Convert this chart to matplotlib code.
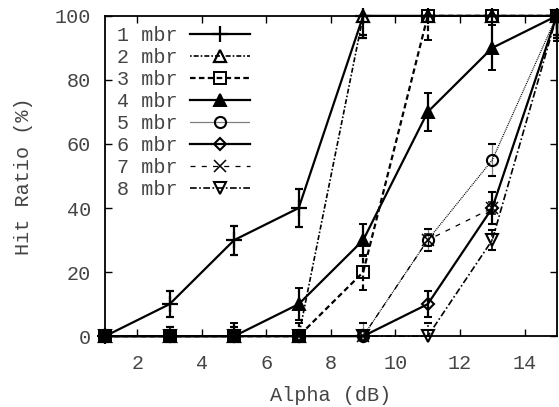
import matplotlib
matplotlib.use('Agg')
import matplotlib.pyplot as plt
from matplotlib.lines import Line2D
import numpy as np

plt.rcParams['font.family'] = ['Liberation Mono', 'DejaVu Sans Mono']
plt.rcParams['font.size'] = 14.5

# Alpha (dB)
alpha = [1, 3, 5, 7, 9, 11, 13, 15]

labels = ['1 mbr', '2 mbr', '3 mbr', '4 mbr', '5 mbr', '6 mbr', '7 mbr', '8 mbr']

# hit ratio (%) per number of mbr
mbr1 = [0, 10, 30, 40, 100, 100, 100, 100]
mbr2 = [0, 0, 0, 0, 100, 100, 100, 100]
mbr3 = [0, 0, 0, 0, 20, 100, 100, 100]
mbr4 = [0, 0, 0, 10, 30, 70, 90, 100]
mbr5 = [0, 0, 0, 0, 0, 30, 55, 100]
mbr6 = [0, 0, 0, 0, 0, 10, 40, 100]
mbr7 = [0, 0, 0, 0, 0, 30, 40, 100]
mbr8 = [0, 0, 0, 0, 0, 0, 30, 100]

# error (+/-)
err1 = [0, 4, 4.5, 6, 7, 0, 0, 7]
err2 = [0, 3, 3, 0, 6, 0, 0, 6]
err3 = [0, 0, 0, 4, 5.5, 7.5, 0, 7]
err4 = [0, 0, 4, 5, 5, 6, 7, 8]
err5 = [0, 0, 0, 0, 4, 3.5, 5, 7]
err6 = [0, 0, 0, 0, 0, 4, 5, 6]
err7 = [0, 0, 0, 0, 0, 2, 2, 6]
err8 = [0, 0, 0, 0, 0, 4, 3, 7]

series = [mbr1, mbr2, mbr3, mbr4, mbr5, mbr6, mbr7, mbr8]
errors = [err1, err2, err3, err4, err5, err6, err7, err8]

styles = [
    dict(ls='-', lw=1.6, marker='+', ms=11, mfc='none', mew=1.6),
    dict(ls=(0, (1, 1.2, 3, 1.2)), lw=1.2, marker='^', ms=8, mfc='none', mew=1.6),
    dict(ls=(0, (2.5, 1.5)), lw=1.6, marker='s', ms=8, mfc='none', mew=1.4),
    dict(ls='-', lw=1.6, marker='^', ms=8, mfc='black', mew=1.4),
    dict(ls=(0, (0.8, 0.8)), lw=0.9, marker='o', ms=8, mfc='none', mew=1.5),
    dict(ls='-', lw=1.6, marker='D', ms=6.5, mfc='none', mew=1.5),
    dict(ls=(0, (4, 5)), lw=0.9, marker='x', ms=8, mfc='none', mew=1.1),
    dict(ls=(0, (4, 1.5, 1, 1.5)), lw=1.2, marker='v', ms=8, mfc='none', mew=1.5),
]

fig = plt.figure(figsize=(5.59, 4.07), dpi=100)
ax = fig.add_axes([0.188, 0.174, 0.808, 0.787])

handles = []
for y, e, st, lab in zip(series, errors, styles, labels):
    y = np.array(y, dtype=float)
    e = np.array(e, dtype=float)
    lo = np.minimum(e, y - 0)
    hi = np.minimum(e, 100 - y)
    cont = ax.errorbar(alpha, y, yerr=[lo, hi], color='black', capsize=3,
                       elinewidth=st['lw'], capthick=st['lw'], clip_on=False,
                       **st)
    for bl in cont[2]:
        bl.set_linestyle(st['ls'])
        bl.set_clip_on(False)
    for cl in cont[1]:
        cl.set_clip_on(False)
    handles.append(Line2D([], [], color='black', **st))

ax.set_xlim(1, 15)
ax.set_ylim(0, 100)
ax.set_xticks([2, 4, 6, 8, 10, 12, 14])
ax.set_yticks([0, 20, 40, 60, 80, 100])
ax.tick_params(direction='in', top=True, right=True, length=5, width=1,
               labelcolor='#444444')
ax.tick_params(axis='x', pad=13)
ax.tick_params(axis='y', pad=10)
for sp in ax.spines.values():
    sp.set_linewidth(1.3)

ax.set_xlabel('Alpha (dB)', color='#444444', labelpad=9)
ax.set_ylabel('Hit Ratio (%)', color='#444444', labelpad=16)

ax.legend(handles=handles, labels=labels, loc='upper left', frameon=False,
          markerfirst=False, handlelength=3.0, labelspacing=0.15,
          handletextpad=0.6, borderaxespad=0.3, bbox_to_anchor=(-0.005, 1.012),
          labelcolor='#444444')

plt.savefig('out.png', dpi=100)
plt.close()
